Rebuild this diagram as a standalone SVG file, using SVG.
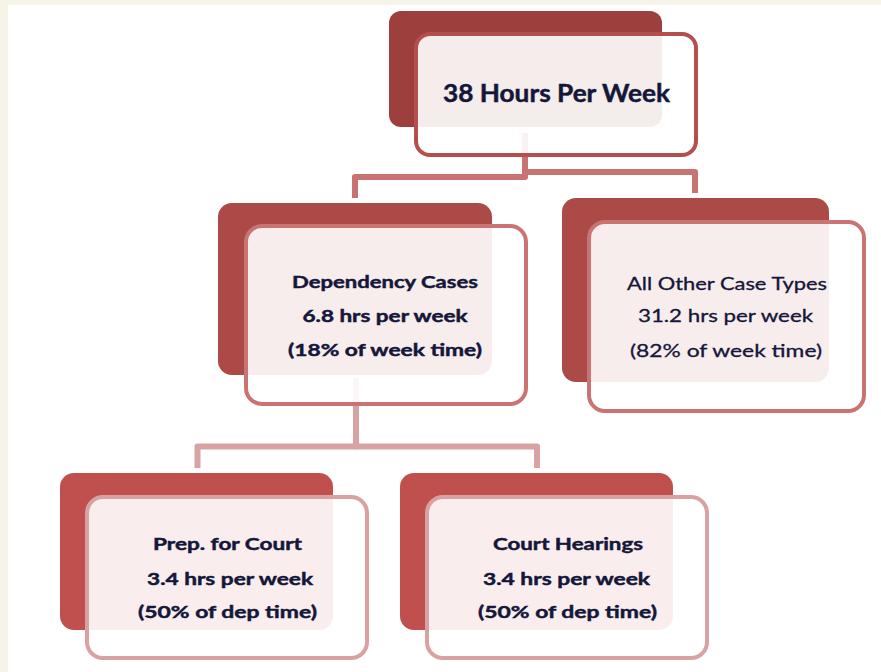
<svg xmlns="http://www.w3.org/2000/svg" width="881" height="672" viewBox="0 0 881 672">
  <style>
    .back1 { fill: #9c3f3d; }
    .back2 { fill: #ac4a47; }
    .back3 { fill: #c0504d; }
    .front { fill: #ffffff; fill-opacity: 0.9; stroke-width: 4; }
    .f1 { stroke: #b44f4d; }
    .f2 { stroke: #c97372; }
    .f3 { stroke: #d9a2a2; }
    .lbl { font-family: Lato, "Open Sans", "Liberation Sans", sans-serif; fill: #14163a; text-anchor: middle; }
    .b { font-weight: bold; stroke: #14163a; stroke-width: 0.45; }
    .t1 { font-size: 24px; }
    .t2 { font-size: 17px; }
    .conn { fill: none; stroke-width: 6; stroke-linejoin: round; }
    .c1 { stroke: #c87371; }
    .c2 { stroke: #d9a3a3; }
  </style>

  <!-- page background with beige margin -->
  <rect x="0" y="0" width="881" height="672" fill="#f6f3e8"/>
  <rect x="8" y="5" width="873" height="667" fill="#ffffff"/>

  <!-- connectors (drawn beneath the translucent node cards) -->
  <g id="connectors">
    <path class="conn c1" d="M525 133 V177 H355 V198"/>
    <path class="conn c1" d="M525 172 H695 V193"/>
    <path class="conn c2" d="M356 378 V446.5 H197.5 V468"/>
    <path class="conn c2" d="M356 446.5 H537 V468"/>
  </g>

  <g id="node-total">
    <rect class="back1" x="389" y="11" width="273" height="116" rx="12"/>
    <rect class="front f1" x="416" y="34" width="280" height="121" rx="14"/>
    <text class="lbl b t1" x="556.5" y="102" textLength="227" lengthAdjust="spacingAndGlyphs">38 Hours Per Week</text>
  </g>

  <g id="node-dependency">
    <rect class="back2" x="218" y="203" width="274" height="172" rx="14"/>
    <rect class="front f2" x="246" y="226" width="280" height="178" rx="16"/>
    <text class="lbl b t2" x="385" y="288" textLength="186" lengthAdjust="spacingAndGlyphs">Dependency Cases</text>
    <text class="lbl b t2" x="385" y="322" textLength="165" lengthAdjust="spacingAndGlyphs">6.8 hrs per week</text>
    <text class="lbl b t2" x="385" y="356" textLength="194" lengthAdjust="spacingAndGlyphs">(18% of week time)</text>
  </g>

  <g id="node-other">
    <rect class="back2" x="562" y="198" width="267" height="184" rx="14"/>
    <rect class="front f2" x="589" y="222" width="275" height="189" rx="16"/>
    <text class="lbl t2" x="727" y="290" textLength="200" lengthAdjust="spacingAndGlyphs" stroke="#14163a" stroke-width="0.3">All Other Case Types</text>
    <text class="lbl t2" x="725.5" y="322" textLength="175" lengthAdjust="spacingAndGlyphs" stroke="#14163a" stroke-width="0.3">31.2 hrs per week</text>
    <text class="lbl t2" x="726" y="357" textLength="192" lengthAdjust="spacingAndGlyphs" stroke="#14163a" stroke-width="0.3">(82% of week time)</text>
  </g>

  <g id="node-prep">
    <rect class="back3" x="60" y="473" width="273" height="157" rx="14"/>
    <rect class="front f3" x="87" y="497" width="280" height="161" rx="16"/>
    <text class="lbl b t2" x="227.5" y="550" textLength="149" lengthAdjust="spacingAndGlyphs">Prep. for Court</text>
    <text class="lbl b t2" x="230" y="585" textLength="166" lengthAdjust="spacingAndGlyphs">3.4 hrs per week</text>
    <text class="lbl b t2" x="227.5" y="618" textLength="179" lengthAdjust="spacingAndGlyphs">(50% of dep time)</text>
  </g>

  <g id="node-hearings">
    <rect class="back3" x="400" y="473" width="273" height="157" rx="14"/>
    <rect class="front f3" x="427" y="497" width="280" height="161" rx="16"/>
    <text class="lbl b t2" x="568" y="550" textLength="150" lengthAdjust="spacingAndGlyphs">Court Hearings</text>
    <text class="lbl b t2" x="566.5" y="585" textLength="167" lengthAdjust="spacingAndGlyphs">3.4 hrs per week</text>
    <text class="lbl b t2" x="567.5" y="618" textLength="179" lengthAdjust="spacingAndGlyphs">(50% of dep time)</text>
  </g>
</svg>
